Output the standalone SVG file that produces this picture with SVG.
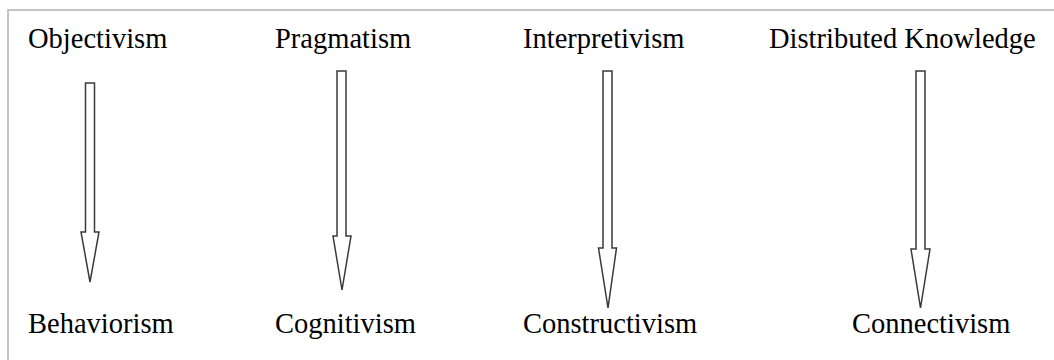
<svg xmlns="http://www.w3.org/2000/svg" width="1054" height="360" viewBox="0 0 1054 360">
<style>
.lbl{font-family:"Liberation Serif","Times New Roman",serif;font-size:28.5px;fill:#000}
.arr{fill:#fff;stroke:#3a3a3a;stroke-width:1.5;stroke-linejoin:miter}
.frame{stroke:#c4c4c4;stroke-width:2;fill:none}
</style>
<rect width="1054" height="360" fill="#fff"/>
<path class="frame" d="M8,360 V10 H1054"/>
<g id="objectivism"><text class="lbl" x="28" y="48">Objectivism</text></g>
<g id="pragmatism"><text class="lbl" x="275" y="48">Pragmatism</text></g>
<g id="interpretivism"><text class="lbl" x="523" y="48">Interpretivism</text></g>
<g id="distributed"><text class="lbl" x="769" y="48">Distributed Knowledge</text></g>
<g id="behaviorism"><text class="lbl" x="28" y="333">Behaviorism</text></g>
<g id="cognitivism"><text class="lbl" x="275" y="333">Cognitivism</text></g>
<g id="constructivism"><text class="lbl" x="523" y="333">Constructivism</text></g>
<g id="connectivism"><text class="lbl" x="852" y="333">Connectivism</text></g>
<g id="connectors">
<polygon class="arr" points="85.5,83 94.5,83 94.5,232 99,232 90,282 81,232 85.5,232"/>
<polygon class="arr" points="337,71 346,71 346,236 351,236 342,290 333,236 337,236"/>
<polygon class="arr" points="603,71 612,71 612,248 616.5,248 608,308 598.5,248 603,248"/>
<polygon class="arr" points="916,71 925,71 925,249 930,249 920.5,308 911,249 916,249"/>
</g>
</svg>
